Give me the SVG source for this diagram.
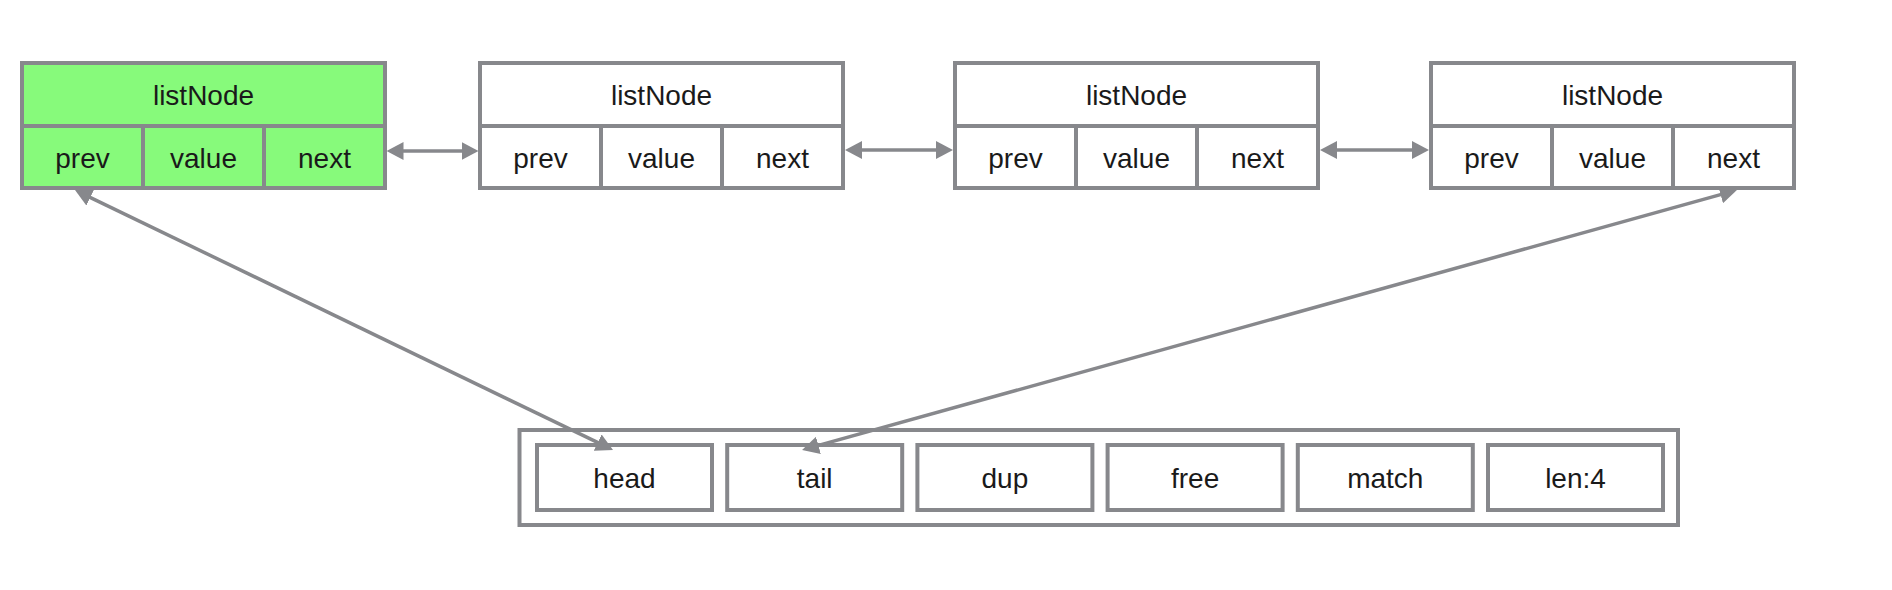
<svg xmlns="http://www.w3.org/2000/svg" width="1892" height="590" viewBox="0 0 1892 590">
<style>
.box{fill:#ffffff;stroke:#87888c;stroke-width:4}
.green{fill:#87fa7b;stroke:#87888c;stroke-width:4}
.conn{fill:none;stroke:#87888c;stroke-width:3.5;marker-start:url(#ah);marker-end:url(#ah)}
text{font-family:"Liberation Sans",Arial,sans-serif;font-size:28px;fill:#1a1a1a;text-anchor:middle}
</style>
<defs>
<marker id="ah" viewBox="0 0 17 18" refX="13" refY="9" markerWidth="17" markerHeight="18" markerUnits="userSpaceOnUse" orient="auto-start-reverse">
<path d="M0,0 L17,9 L0,18 z" fill="#87888c"/>
</marker>
</defs>
<rect width="1892" height="590" fill="#ffffff"/>

<g id="list">
<rect class="box" x="519.5" y="430" width="1158.5" height="95"/>
<rect class="box" x="537" y="445" width="175" height="65"/><text x="624.5" y="488">head</text>
<rect class="box" x="727.2" y="445" width="175" height="65"/><text x="814.7" y="488">tail</text>
<rect class="box" x="917.4" y="445" width="175" height="65"/><text x="1004.9" y="488">dup</text>
<rect class="box" x="1107.6" y="445" width="175" height="65"/><text x="1195.1" y="488">free</text>
<rect class="box" x="1297.8" y="445" width="175" height="65"/><text x="1385.3" y="488">match</text>
<rect class="box" x="1488" y="445" width="175" height="65"/><text x="1575.5" y="488">len:4</text>
</g>

<g id="connectors">
<path class="conn" d="M390.5,151 L474.5,151"/>
<path class="conn" d="M849,150 L949,150"/>
<path class="conn" d="M1324,150 L1425,150"/>
<path class="conn" d="M78.6,191.8 L609.4,448.2"/>
<path class="conn" d="M805.9,448.9 L1733.1,191.1"/>
</g>

<g id="node1">
<rect class="green" x="22" y="63" width="363" height="63"/>
<rect class="green" x="22" y="126" width="121" height="62"/>
<rect class="green" x="143" y="126" width="121" height="62"/>
<rect class="green" x="264" y="126" width="121" height="62"/>
<text x="203.5" y="105">listNode</text>
<text x="82.5" y="168">prev</text>
<text x="203.5" y="168">value</text>
<text x="324.5" y="168">next</text>
</g>

<g id="node2">
<rect class="box" x="480" y="63" width="363" height="63"/>
<rect class="box" x="480" y="126" width="121" height="62"/>
<rect class="box" x="601" y="126" width="121" height="62"/>
<rect class="box" x="722" y="126" width="121" height="62"/>
<text x="661.5" y="105">listNode</text>
<text x="540.5" y="168">prev</text>
<text x="661.5" y="168">value</text>
<text x="782.5" y="168">next</text>
</g>

<g id="node3">
<rect class="box" x="955" y="63" width="363" height="63"/>
<rect class="box" x="955" y="126" width="121" height="62"/>
<rect class="box" x="1076" y="126" width="121" height="62"/>
<rect class="box" x="1197" y="126" width="121" height="62"/>
<text x="1136.5" y="105">listNode</text>
<text x="1015.5" y="168">prev</text>
<text x="1136.5" y="168">value</text>
<text x="1257.5" y="168">next</text>
</g>

<g id="node4">
<rect class="box" x="1431" y="63" width="363" height="63"/>
<rect class="box" x="1431" y="126" width="121" height="62"/>
<rect class="box" x="1552" y="126" width="121" height="62"/>
<rect class="box" x="1673" y="126" width="121" height="62"/>
<text x="1612.5" y="105">listNode</text>
<text x="1491.5" y="168">prev</text>
<text x="1612.5" y="168">value</text>
<text x="1733.5" y="168">next</text>
</g>
</svg>
